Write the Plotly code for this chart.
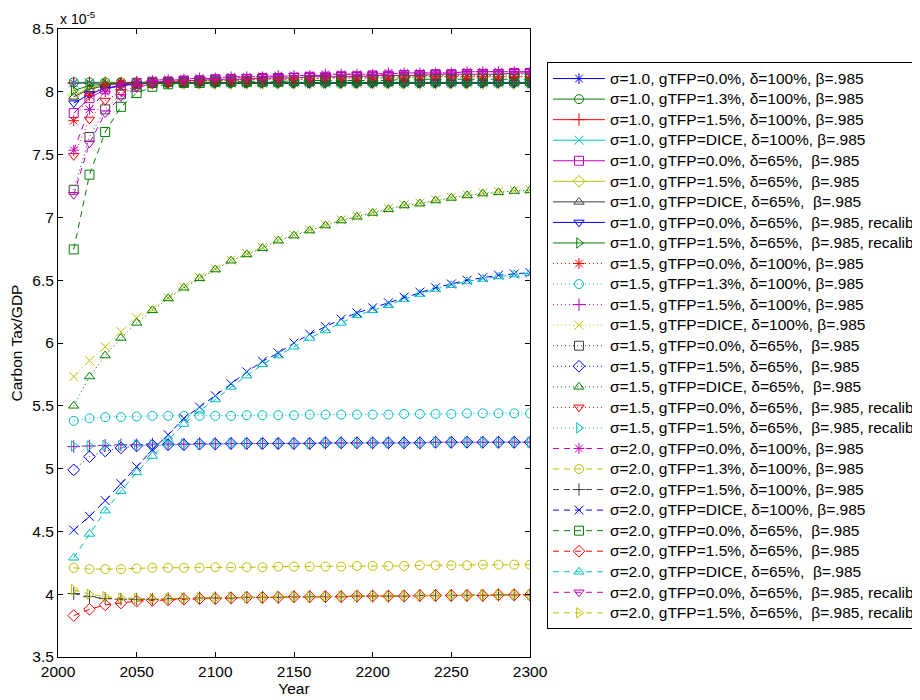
import plotly.graph_objects as go

# ---------------- data (values in units of 1e-5) ----------------
years = [2010, 2020, 2030, 2040, 2050, 2060, 2070, 2080, 2090, 2100,
         2110, 2120, 2130, 2140, 2150, 2160, 2170, 2180, 2190, 2200,
         2210, 2220, 2230, 2240, 2250, 2260, 2270, 2280, 2290, 2300]

s01 = [8.07, 8.07, 8.07, 8.07, 8.07, 8.07, 8.07, 8.07, 8.07, 8.07,
       8.07, 8.07, 8.07, 8.07, 8.07, 8.07, 8.07, 8.07, 8.07, 8.07,
       8.07, 8.07, 8.07, 8.07, 8.07, 8.07, 8.07, 8.07, 8.07, 8.07]
s02 = [8.075, 8.075, 8.075, 8.075, 8.075, 8.075, 8.075, 8.075, 8.075, 8.075,
       8.075, 8.075, 8.075, 8.075, 8.075, 8.075, 8.075, 8.075, 8.075, 8.075,
       8.075, 8.075, 8.075, 8.075, 8.075, 8.075, 8.075, 8.075, 8.075, 8.075]
s03 = [8.07, 8.07, 8.07, 8.07, 8.07, 8.07, 8.07, 8.07, 8.07, 8.07,
       8.07, 8.07, 8.07, 8.07, 8.07, 8.07, 8.07, 8.07, 8.07, 8.07,
       8.07, 8.07, 8.07, 8.07, 8.07, 8.07, 8.07, 8.07, 8.07, 8.07]
s04 = [8.07, 8.07, 8.07, 8.07, 8.07, 8.07, 8.07, 8.07, 8.07, 8.07,
       8.07, 8.07, 8.07, 8.07, 8.07, 8.07, 8.07, 8.07, 8.07, 8.07,
       8.07, 8.07, 8.07, 8.07, 8.07, 8.07, 8.07, 8.07, 8.07, 8.07]
s05 = [7.83, 7.95, 8.02, 8.05, 8.07, 8.08, 8.08, 8.09, 8.09, 8.10,
       8.10, 8.10, 8.11, 8.11, 8.11, 8.12, 8.12, 8.12, 8.12, 8.13,
       8.13, 8.13, 8.13, 8.14, 8.14, 8.14, 8.14, 8.14, 8.15, 8.15]
s06 = [7.97, 8.03, 8.06, 8.07, 8.07, 8.07, 8.07, 8.07, 8.07, 8.07,
       8.07, 8.07, 8.07, 8.07, 8.07, 8.07, 8.07, 8.07, 8.07, 8.07,
       8.07, 8.07, 8.07, 8.07, 8.07, 8.07, 8.07, 8.07, 8.07, 8.07]
s07 = [7.96, 8.02, 8.05, 8.07, 8.07, 8.07, 8.07, 8.07, 8.07, 8.07,
       8.07, 8.07, 8.07, 8.07, 8.07, 8.07, 8.07, 8.07, 8.07, 8.07,
       8.07, 8.07, 8.07, 8.07, 8.07, 8.07, 8.07, 8.07, 8.07, 8.07]
s08 = [7.91, 7.98, 8.03, 8.05, 8.06, 8.07, 8.07, 8.07, 8.07, 8.07,
       8.07, 8.07, 8.07, 8.07, 8.07, 8.07, 8.07, 8.07, 8.07, 8.07,
       8.07, 8.07, 8.07, 8.07, 8.07, 8.07, 8.07, 8.07, 8.07, 8.07]
s09 = [8.01, 8.05, 8.06, 8.07, 8.07, 8.07, 8.07, 8.07, 8.07, 8.07,
       8.07, 8.07, 8.07, 8.07, 8.07, 8.07, 8.07, 8.07, 8.07, 8.07,
       8.07, 8.07, 8.07, 8.07, 8.07, 8.07, 8.07, 8.07, 8.07, 8.07]
s10 = [7.77, 7.97, 8.05, 8.07, 8.08, 8.08, 8.08, 8.09, 8.09, 8.09,
       8.09, 8.10, 8.10, 8.10, 8.10, 8.10, 8.11, 8.11, 8.11, 8.11,
       8.11, 8.11, 8.12, 8.12, 8.12, 8.12, 8.12, 8.12, 8.12, 8.12]
s11 = [5.38, 5.40, 5.41, 5.41, 5.415, 5.42, 5.42, 5.42, 5.42, 5.42,
       5.42, 5.425, 5.425, 5.425, 5.425, 5.43, 5.43, 5.43, 5.43, 5.43,
       5.43, 5.435, 5.435, 5.435, 5.435, 5.44, 5.44, 5.44, 5.44, 5.44]
s12 = [5.175, 5.18, 5.185, 5.19, 5.19, 5.195, 5.195, 5.195, 5.20, 5.20,
       5.20, 5.20, 5.20, 5.20, 5.20, 5.20, 5.205, 5.205, 5.205, 5.205,
       5.205, 5.205, 5.205, 5.21, 5.21, 5.21, 5.21, 5.21, 5.21, 5.21]
s13 = [5.733, 5.86, 5.97, 6.09, 6.20, 6.27, 6.36, 6.445, 6.52, 6.59,
       6.66, 6.71, 6.76, 6.82, 6.86, 6.90, 6.94, 6.98, 7.01, 7.04,
       7.07, 7.10, 7.115, 7.14, 7.16, 7.18, 7.195, 7.205, 7.215, 7.22]
s14 = [7.22, 7.64, 7.86, 7.98, 8.04, 8.07, 8.08, 8.08, 8.09, 8.09,
       8.10, 8.10, 8.10, 8.11, 8.11, 8.11, 8.11, 8.12, 8.12, 8.12,
       8.12, 8.12, 8.13, 8.13, 8.13, 8.13, 8.13, 8.13, 8.14, 8.14]
s15 = [4.99, 5.095, 5.14, 5.165, 5.18, 5.185, 5.19, 5.19, 5.195, 5.195,
       5.20, 5.20, 5.20, 5.20, 5.20, 5.20, 5.205, 5.205, 5.205, 5.205,
       5.205, 5.205, 5.205, 5.21, 5.21, 5.21, 5.21, 5.21, 5.21, 5.21]
s16 = [5.50, 5.733, 5.90, 6.04, 6.16, 6.26, 6.355, 6.44, 6.515, 6.585,
       6.655, 6.705, 6.755, 6.815, 6.855, 6.895, 6.935, 6.975, 7.005, 7.035,
       7.065, 7.095, 7.11, 7.135, 7.155, 7.175, 7.19, 7.20, 7.21, 7.215]
s17 = [7.49, 7.78, 7.93, 8.00, 8.04, 8.06, 8.07, 8.08, 8.08, 8.09,
       8.09, 8.09, 8.10, 8.10, 8.10, 8.10, 8.11, 8.11, 8.11, 8.11,
       8.11, 8.11, 8.12, 8.12, 8.12, 8.12, 8.12, 8.12, 8.12, 8.12]
s18 = [5.18, 5.18, 5.185, 5.185, 5.19, 5.19, 5.195, 5.195, 5.195, 5.20,
       5.20, 5.20, 5.20, 5.20, 5.20, 5.20, 5.205, 5.205, 5.205, 5.205,
       5.205, 5.205, 5.205, 5.21, 5.21, 5.21, 5.21, 5.21, 5.21, 5.21]
s19 = [7.535, 7.86, 8.00, 8.06, 8.08, 8.09, 8.10, 8.10, 8.11, 8.11,
       8.12, 8.12, 8.12, 8.13, 8.13, 8.13, 8.14, 8.14, 8.14, 8.14,
       8.15, 8.15, 8.15, 8.15, 8.15, 8.16, 8.16, 8.16, 8.16, 8.16]
s20 = [4.21, 4.20, 4.20, 4.20, 4.205, 4.21, 4.21, 4.21, 4.21, 4.215,
       4.215, 4.215, 4.215, 4.22, 4.22, 4.22, 4.22, 4.22, 4.225, 4.225,
       4.225, 4.225, 4.23, 4.23, 4.23, 4.23, 4.235, 4.235, 4.235, 4.235]
s21 = [4.005, 3.98, 3.965, 3.96, 3.96, 3.96, 3.965, 3.965, 3.97, 3.97,
       3.97, 3.975, 3.975, 3.975, 3.98, 3.98, 3.98, 3.98, 3.985, 3.985,
       3.985, 3.985, 3.99, 3.99, 3.99, 3.99, 3.99, 3.995, 3.995, 3.995]
s22 = [4.51, 4.62, 4.745, 4.88, 5.015, 5.15, 5.27, 5.40, 5.49, 5.58,
       5.675, 5.77, 5.855, 5.92, 6.00, 6.07, 6.13, 6.19, 6.24, 6.28,
       6.32, 6.365, 6.405, 6.44, 6.47, 6.50, 6.52, 6.54, 6.55, 6.56]
s23 = [6.745, 7.34, 7.68, 7.88, 7.99, 8.04, 8.06, 8.07, 8.07, 8.08,
       8.08, 8.08, 8.08, 8.08, 8.09, 8.09, 8.09, 8.09, 8.09, 8.09,
       8.09, 8.10, 8.10, 8.10, 8.10, 8.10, 8.10, 8.10, 8.10, 8.10]
s24 = [3.83, 3.88, 3.915, 3.93, 3.945, 3.95, 3.955, 3.96, 3.965, 3.965,
       3.97, 3.975, 3.975, 3.975, 3.98, 3.98, 3.98, 3.98, 3.985, 3.985,
       3.985, 3.985, 3.99, 3.99, 3.99, 3.99, 3.99, 3.995, 3.995, 3.995]
s25 = [4.29, 4.48, 4.665, 4.82, 4.97, 5.10, 5.23, 5.355, 5.46, 5.55,
       5.65, 5.74, 5.83, 5.90, 5.97, 6.04, 6.10, 6.16, 6.22, 6.26,
       6.30, 6.35, 6.39, 6.43, 6.46, 6.49, 6.51, 6.53, 6.545, 6.555]
s26 = [7.18, 7.59, 7.83, 7.96, 8.03, 8.07, 8.09, 8.10, 8.10, 8.11,
       8.11, 8.12, 8.12, 8.12, 8.13, 8.13, 8.13, 8.14, 8.14, 8.14,
       8.14, 8.15, 8.15, 8.15, 8.15, 8.16, 8.16, 8.16, 8.16, 8.16]
s27 = [4.035, 4.00, 3.98, 3.97, 3.965, 3.965, 3.965, 3.97, 3.97, 3.97,
       3.975, 3.975, 3.975, 3.98, 3.98, 3.98, 3.98, 3.985, 3.985, 3.985,
       3.985, 3.99, 3.99, 3.99, 3.99, 3.99, 3.995, 3.995, 3.995, 3.995]

series = [s01, s02, s03, s04, s05, s06, s07, s08, s09,
          s10, s11, s12, s13, s14, s15, s16, s17, s18,
          s19, s20, s21, s22, s23, s24, s25, s26, s27]

labels = [
    "σ=1.0, gTFP=0.0%, δ=100%, β=.985",
    "σ=1.0, gTFP=1.3%, δ=100%, β=.985",
    "σ=1.0, gTFP=1.5%, δ=100%, β=.985",
    "σ=1.0, gTFP=DICE, δ=100%, β=.985",
    "σ=1.0, gTFP=0.0%, δ=65%,\u00a0 β=.985",
    "σ=1.0, gTFP=1.5%, δ=65%,\u00a0 β=.985",
    "σ=1.0, gTFP=DICE, δ=65%,\u00a0 β=.985",
    "σ=1.0, gTFP=0.0%, δ=65%,\u00a0 β=.985, recalib.",
    "σ=1.0, gTFP=1.5%, δ=65%,\u00a0 β=.985, recalib.",
    "σ=1.5, gTFP=0.0%, δ=100%, β=.985",
    "σ=1.5, gTFP=1.3%, δ=100%, β=.985",
    "σ=1.5, gTFP=1.5%, δ=100%, β=.985",
    "σ=1.5, gTFP=DICE, δ=100%, β=.985",
    "σ=1.5, gTFP=0.0%, δ=65%,\u00a0 β=.985",
    "σ=1.5, gTFP=1.5%, δ=65%,\u00a0 β=.985",
    "σ=1.5, gTFP=DICE, δ=65%,\u00a0 β=.985",
    "σ=1.5, gTFP=0.0%, δ=65%,\u00a0 β=.985, recalib.",
    "σ=1.5, gTFP=1.5%, δ=65%,\u00a0 β=.985, recalib.",
    "σ=2.0, gTFP=0.0%, δ=100%, β=.985",
    "σ=2.0, gTFP=1.3%, δ=100%, β=.985",
    "σ=2.0, gTFP=1.5%, δ=100%, β=.985",
    "σ=2.0, gTFP=DICE, δ=100%, β=.985",
    "σ=2.0, gTFP=0.0%, δ=65%,\u00a0 β=.985",
    "σ=2.0, gTFP=1.5%, δ=65%,\u00a0 β=.985",
    "σ=2.0, gTFP=DICE, δ=65%,\u00a0 β=.985",
    "σ=2.0, gTFP=0.0%, δ=65%,\u00a0 β=.985, recalib.",
    "σ=2.0, gTFP=1.5%, δ=65%,\u00a0 β=.985, recalib.",
]

x_ticks = [2000, 2050, 2100, 2150, 2200, 2250, 2300]
y_ticks = [3.5, 4, 4.5, 5, 5.5, 6, 6.5, 7, 7.5, 8, 8.5]
y_ticktext = ["3.5", "4", "4.5", "5", "5.5", "6", "6.5", "7", "7.5", "8", "8.5"]

# ---------------- styles ----------------
color_cycle = ["#0000ff", "#008000", "#ff0000", "#00bfbf", "#bf00bf", "#bfbf00", "#404040"]
symbol_cycle = ["asterisk-open", "circle-open", "cross-thin-open", "x-thin-open",
                "square-open", "diamond-open", "triangle-up-open",
                "triangle-down-open", "triangle-right-open"]
dash_styles = ["solid", "1px,3px", "6px,5px"]

FONT = "Liberation Sans, Arial, Helvetica, sans-serif"

fig = go.Figure()
for i, (vals, lab) in enumerate(zip(series, labels)):
    col = color_cycle[i % 7]
    sym = symbol_cycle[i % 9]
    dash = dash_styles[i // 9]
    fig.add_trace(go.Scatter(
        x=years, y=vals, mode="lines+markers",
        name='<span style="font-size:15.5px">' + lab + '</span>',
        line=dict(color=col, width=1, dash=dash),
        marker=dict(symbol=sym, size=9, color=col,
                    line=dict(color=col, width=1)),
    ))

# the page body adds an 8px offset, so the figure is sized/margined to compensate
fig.update_layout(
    width=912, height=692,
    margin=dict(l=50, r=390, t=21, b=43, autoexpand=False),
    paper_bgcolor="white", plot_bgcolor="white",
    font=dict(family=FONT, size=15.5, color="black"),
    showlegend=True,
    legend=dict(
        x=1.036, y=0.947, xanchor="left", yanchor="top",
        bgcolor="white", bordercolor="black", borderwidth=1,
        font=dict(family=FONT, size=13.5, color="black"),
        itemwidth=52, tracegroupgap=0,
    ),
    xaxis=dict(
        range=[2000, 2300], tickvals=x_ticks, ticks="inside", ticklen=5,
        tickcolor="black", showline=True, linecolor="black", linewidth=1,
        mirror="allticks", showgrid=False, zeroline=False,
        title=dict(text="Year", standoff=2, font=dict(size=15.5)),
    ),
    yaxis=dict(
        range=[3.5, 8.5], tickvals=y_ticks, ticktext=y_ticktext,
        ticks="inside", ticklen=5, tickcolor="black",
        showline=True, linecolor="black", linewidth=1,
        mirror="allticks", showgrid=False, zeroline=False,
        title=dict(text="Carbon Tax/GDP", standoff=6, font=dict(size=15.5)),
    ),
    annotations=[dict(
        text="x 10<sup>-5</sup>", xref="paper", yref="paper",
        x=0, y=1, xanchor="left", yanchor="bottom", showarrow=False,
        font=dict(family=FONT, size=14, color="black"),
    )],
)

fig.write_html("out.html")
